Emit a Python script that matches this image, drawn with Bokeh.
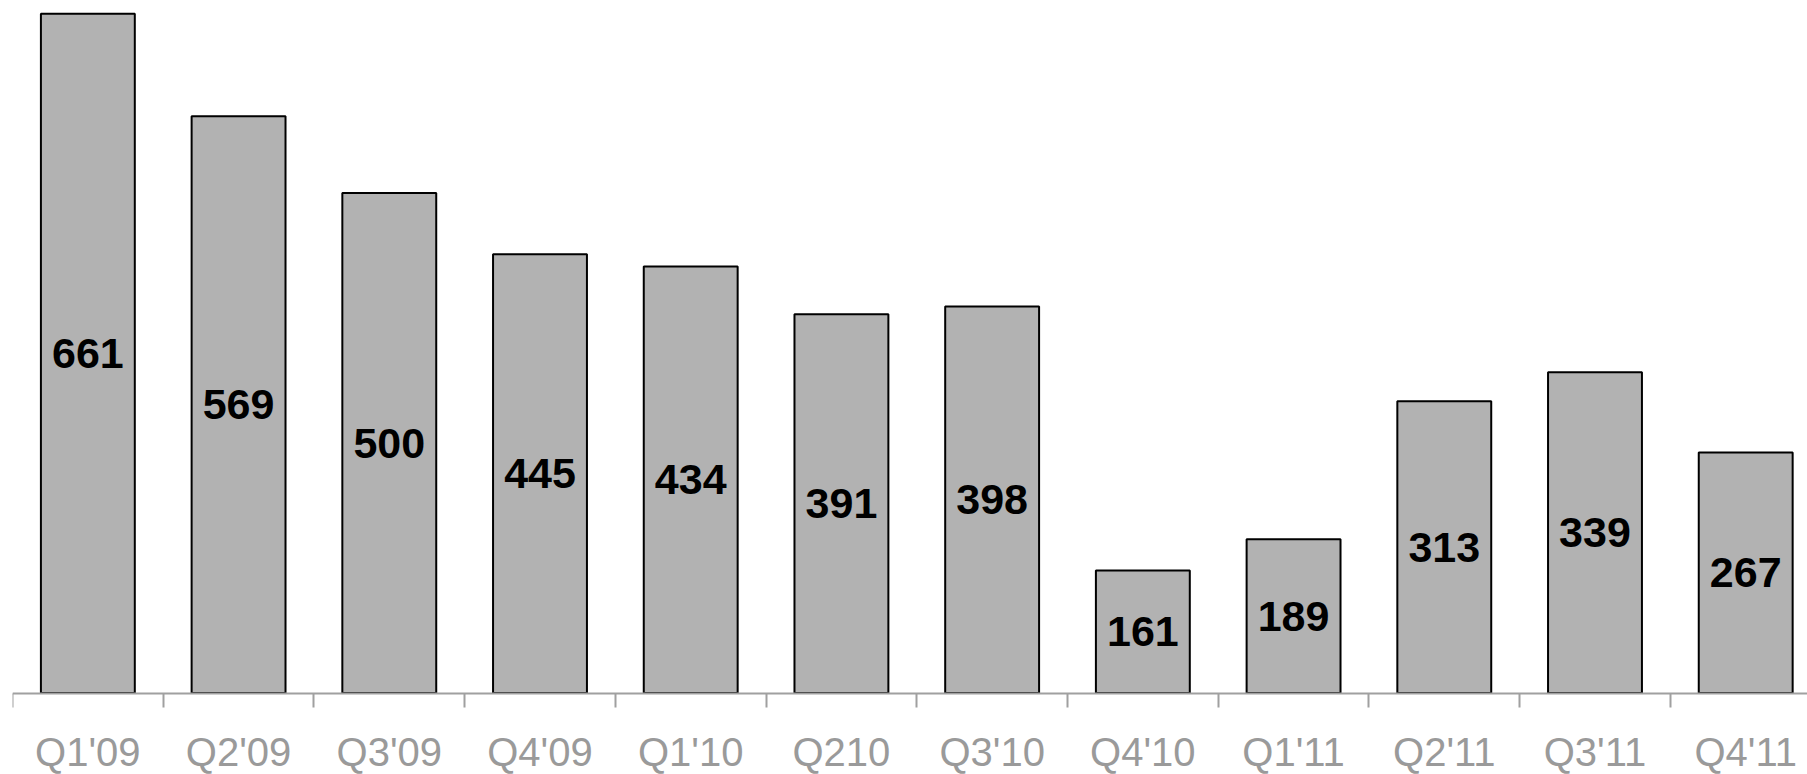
from bokeh.plotting import figure
from bokeh.models import ColumnDataSource, Range1d, FixedTicker
from bokeh.core.properties import value
from bokeh.embed import file_html
from bokeh.resources import INLINE

# ---- data ----
quarters = ["Q1'09", "Q2'09", "Q3'09", "Q4'09", "Q1'10", "Q210",
            "Q3'10", "Q4'10", "Q1'11", "Q2'11", "Q3'11", "Q4'11"]
values = [661, 569, 500, 445, 434, 391, 398, 161, 189, 313, 339, 267]
y_start = 50.9          # value at which the bars start (axis line)
y_low = -22.3           # lower end of the visible range (room for labels)
y_end = 672.9

xs = list(range(len(quarters)))
labels = [str(v) for v in values]
label_y = [(v + y_start) / 2 for v in values]
bottoms = [y_start for _ in values]

src = ColumnDataSource(dict(x=xs, top=values, bottom=bottoms,
                            ly=label_y, txt=labels))

p = figure(width=1807, height=774, output_backend="svg", toolbar_location=None,
           x_range=Range1d(-0.5, 11.41), y_range=Range1d(y_low, y_end),
           y_axis_location=None, min_border_left=12, min_border_right=0,
           min_border_top=0, min_border_bottom=0)
p.outline_line_color = None
p.xgrid.grid_line_color = None
p.ygrid.grid_line_color = None
p.background_fill_color = "white"
p.border_fill_color = "white"

p.vbar(x="x", top="top", bottom="bottom", width=0.623, source=src,
       fill_color="#b2b2b2", line_color="black", line_width=2)

p.text(x="x", y="ly", text="txt", source=src, text_align="center",
       text_baseline="middle", text_font=value("Liberation Sans"),
       text_font_style="bold", text_font_size="43px", text_color="black")

ax = p.xaxis[0]
ax.fixed_location = y_start
ax.ticker = FixedTicker(ticks=xs, minor_ticks=[i - 0.5 for i in range(len(quarters) + 1)])
ax.major_label_overrides = {i: q for i, q in enumerate(quarters)}
ax.major_tick_line_color = None
ax.major_tick_out = 0
ax.major_tick_in = 0
ax.minor_tick_out = 14
ax.minor_tick_in = 0
ax.minor_tick_line_color = "#a0a0a0"
ax.minor_tick_line_width = 2
ax.axis_line_color = "#a0a0a0"
ax.axis_line_width = 2
ax.major_label_standoff = 23
ax.major_label_text_font = "Liberation Sans"
ax.major_label_text_font_size = "40px"
ax.major_label_text_color = "#9a9a9a"

open("out.html", "w").write(file_html(p, INLINE))
